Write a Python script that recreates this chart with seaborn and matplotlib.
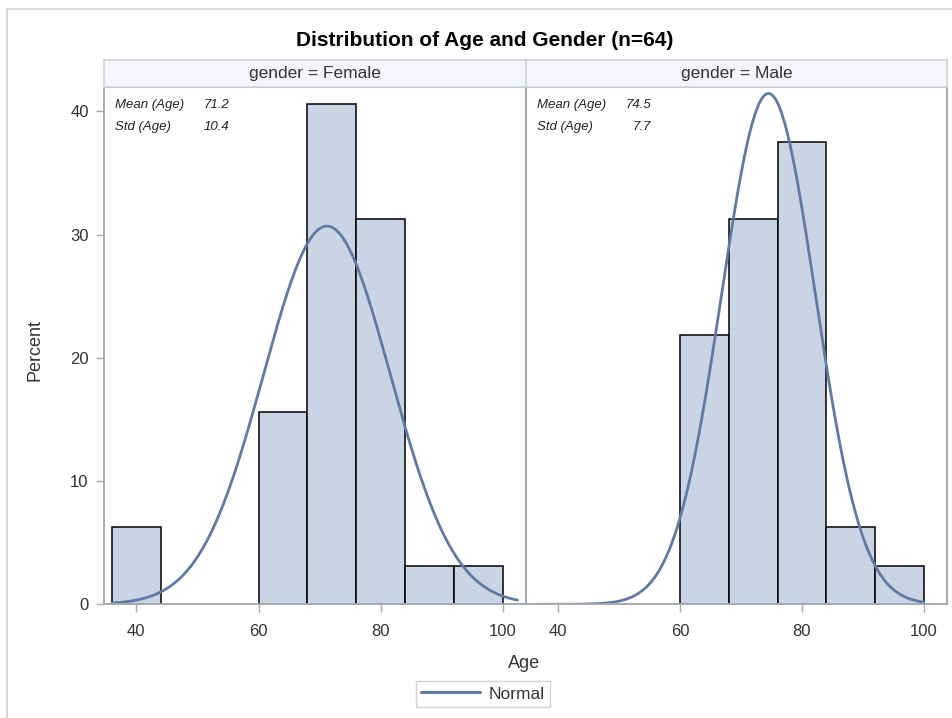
import numpy as np
import pandas as pd
import matplotlib
matplotlib.use("Agg")
import matplotlib.pyplot as plt
from matplotlib.lines import Line2D
import seaborn as sns

# ---------------- data ----------------
bin_edges = [36, 44, 52, 60, 68, 76, 84, 92, 100]
female_pct = [6.25, 0, 0, 15.625, 40.625, 31.25, 3.125, 3.125]
male_pct = [0, 0, 0, 21.875, 31.25, 37.5, 6.25, 3.125]
genders = ["Female", "Male"]
mean_age = [71.2, 74.5]
std_age = [10.4, 7.7]
curve_range = [(36, 102.4), (36, 100)]
x_ticks = [40, 60, 80, 100]
y_ticks = [0, 10, 20, 30, 40]
title = "Distribution of Age and Gender (n=64)"

sns.set_theme(style="white")
plt.rcParams["font.family"] = ["Liberation Sans", "DejaVu Sans"]

FILL = "#c9d5e5"
CURVE = "#5f7aa3"
SPINE = "#a6a9ad"
TXT = "#333333"

W, H = 952, 718
fig = plt.figure(figsize=(W / 100, H / 100), dpi=100)

def fx(px):
    return px / W

def fy(py):
    return 1 - py / H

ax_bottom = fy(604.3)
ax_top = fy(86.7)
panel_x = [(104, 526), (526, 947)]
pct_lists = [female_pct, male_pct]
centers = [(a + b) / 2 for a, b in zip(bin_edges[:-1], bin_edges[1:])]
binw = bin_edges[1] - bin_edges[0]

for i, g in enumerate(genders):
    x0, x1 = panel_x[i]
    ax = fig.add_axes([fx(x0), ax_bottom, fx(x1) - fx(x0), ax_top - ax_bottom])
    df = pd.DataFrame({"Age": centers, "Percent": pct_lists[i]})
    sns.histplot(data=df, x="Age", weights="Percent", bins=bin_edges, ax=ax,
                 color=FILL, edgecolor="black", linewidth=1.1, alpha=1)
    for p in ax.patches:
        if p.get_height() == 0:
            p.set_visible(False)
    lo, hi = curve_range[i]
    xs = np.linspace(lo, hi, 300)
    ys = 100 * binw * np.exp(-0.5 * ((xs - mean_age[i]) / std_age[i]) ** 2) / (std_age[i] * np.sqrt(2 * np.pi))
    sns.lineplot(x=xs, y=ys, ax=ax, color=CURVE, linewidth=2.0)
    ax.set_xlim(34.7, 103.8)
    ax.set_ylim(0, 42)
    ax.set_xticks(x_ticks)
    ax.set_xticklabels([str(t) for t in x_ticks], fontsize=12, color=TXT)
    ax.set_xlabel("")
    ax.set_ylabel("")
    for s in ax.spines.values():
        s.set_color(SPINE)
        s.set_linewidth(1.4)
        s.set_visible(True)
    ax.tick_params(axis="x", which="major", bottom=True, direction="out", length=6,
                   width=1, color=SPINE, pad=8)
    ax.set_yticks(y_ticks)
    if i == 0:
        ax.set_yticklabels([str(t) for t in y_ticks], fontsize=12, color=TXT)
        ax.tick_params(axis="y", which="major", left=True, direction="out", length=6,
                       width=1, color=SPINE, pad=5)
    else:
        ax.tick_params(axis="y", left=False, labelleft=False)
    # inset statistics
    fs_in = 9.5
    ax.text(0.026, 0.965, "Mean (Age)", transform=ax.transAxes, fontsize=fs_in,
            style="italic", ha="left", va="center", color="#222222")
    ax.text(0.026, 0.922, "Std (Age)", transform=ax.transAxes, fontsize=fs_in,
            style="italic", ha="left", va="center", color="#222222")
    ax.text(0.297, 0.965, f"{mean_age[i]:.1f}", transform=ax.transAxes, fontsize=fs_in,
            style="italic", ha="right", va="center", color="#222222")
    ax.text(0.297, 0.922, f"{std_age[i]:.1f}", transform=ax.transAxes, fontsize=fs_in,
            style="italic", ha="right", va="center", color="#222222")

    # header strip
    hx = fig.add_axes([fx(x0), fy(86.7), fx(x1) - fx(x0), fy(60) - fy(86.7)])
    hx.set_facecolor("#f4f6fb")
    hx.set_xticks([])
    hx.set_yticks([])
    for s in hx.spines.values():
        s.set_color("#cfd2d6")
        s.set_linewidth(1.2)
    hx.text(0.5, 0.5, f"gender = {g}", transform=hx.transAxes, ha="center",
            va="center", fontsize=12.5, color=TXT)

fig.text(fx(485), fy(40), title, ha="center", va="center", fontsize=15,
         fontweight="bold", color="black")
fig.text(fx(524), fy(663), "Age", ha="center", va="center", fontsize=13, color=TXT)
fig.text(fx(35), fy(350), "Percent", ha="center", va="center", fontsize=13,
         color=TXT, rotation=90)

handle = Line2D([], [], color=CURVE, linewidth=2.2)
leg = fig.legend([handle], ["Normal"], loc="center", bbox_to_anchor=(fx(483), fy(694)),
                 fontsize=12.5, frameon=True, fancybox=False, handlelength=3.4,
                 borderpad=0.3, handletextpad=0.5)
leg.get_frame().set_edgecolor("#c8c8c8")
leg.get_frame().set_linewidth(1.0)
for t in leg.get_texts():
    t.set_color(TXT)

# outer light frame of the image
fig.add_artist(Line2D([fx(7), fx(7)], [fy(9), 0], color="#d4d4d4", linewidth=1.2))
fig.add_artist(Line2D([fx(7), 1], [fy(9), fy(9)], color="#d4d4d4", linewidth=1.2))

fig.savefig("out.png", dpi=100)
